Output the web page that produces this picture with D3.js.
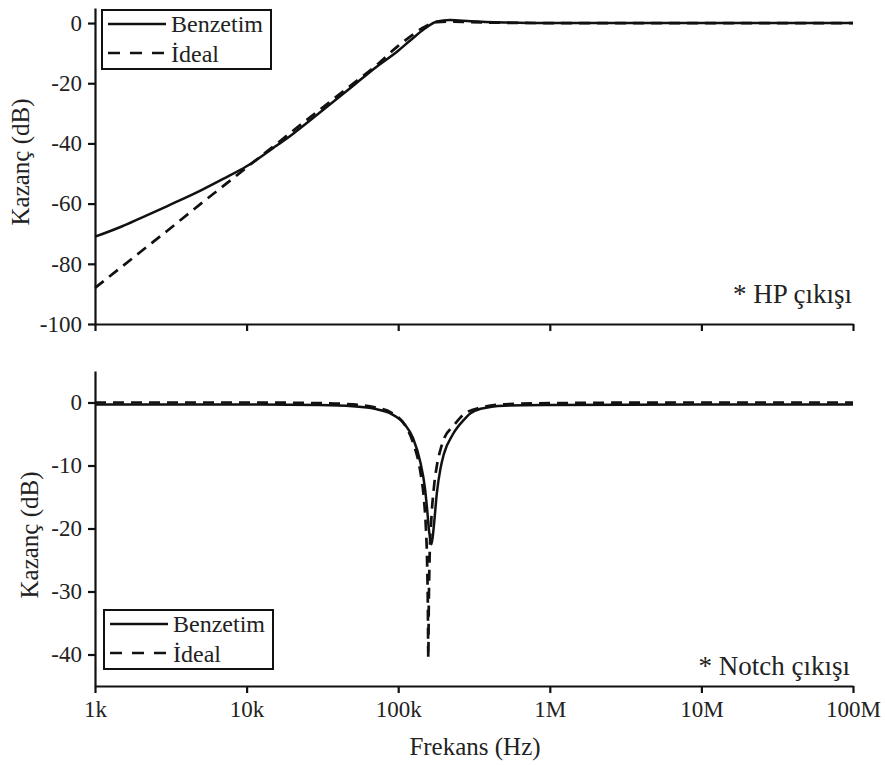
<!DOCTYPE html>
<html>
<head>
<meta charset="utf-8">
<script src="https://cdn.jsdelivr.net/npm/d3@7"></script>
<style>
  body { margin: 0; background: #fff; }
</style>
</head>
<body>
<svg id="chart" width="885" height="765"></svg>
<script>
// frequency ticks
let tickFreqs = [1e3, 1e4, 1e5, 1e6, 1e7, 1e8];
let tickNames = ["1k", "10k", "100k", "1M", "10M", "100M"];

// HP output (top panel)
let hpFreq = [1e3, 1.5e3, 2e3, 3e3, 5e3, 7e3, 1e4, 1.5e4, 2e4, 3e4, 5e4, 7e4, 1e5, 1.2e5, 1.5e5, 1.8e5, 2.2e5, 3e5, 5e5, 1e6, 1e7, 1e8];
let hpSim = [-71, -67.6, -64.8, -60.8, -55.6, -51.8, -47.6, -41.5, -37, -30, -21, -15, -9.2, -5.8, -1.8, 0.5, 1.0, 0.6, 0.2, 0, 0, 0];
let hpIdeal = [-88, -81, -76, -69, -60, -54.2, -48, -41, -36, -29, -20.3, -14.5, -7.6, -4.5, -1.2, 0.3, 0.5, 0.3, 0.1, 0, 0, 0];

// Notch output (bottom panel)
let nSimFreq = [1e3, 1e4, 3e4, 5e4, 7e4, 9e4, 1.1e5, 1.25e5, 1.4e5, 1.5e5, 1.55e5, 1.6e5, 1.66e5, 1.72e5, 1.8e5, 1.9e5, 2e5, 2.3e5, 2.7e5, 3e5, 3.5e5, 5e5, 1e6, 1e7, 1e8];
let nSim = [-0.3, -0.3, -0.4, -0.6, -1.0, -1.8, -3.4, -5.6, -9.5, -13.5, -16.8, -20.5, -22.5, -19.5, -14.3, -10.5, -8.2, -5.0, -2.8, -1.7, -1.0, -0.5, -0.4, -0.3, -0.3];
let nIdealFreq = [1e3, 1e4, 3e4, 5e4, 7e4, 9e4, 1.1e5, 1.25e5, 1.4e5, 1.48e5, 1.52e5, 1.55e5, 1.57e5, 1.58e5, 1.59e5, 1.61e5, 1.65e5, 1.72e5, 1.8e5, 1.9e5, 2e5, 2.3e5, 2.7e5, 3.5e5, 5e5, 1e6, 1e7, 1e8];
let nIdeal = [0, 0, -0.1, -0.3, -0.75, -1.6, -3.5, -6.3, -11, -15.5, -19.5, -25, -33, -40.6, -33, -25, -19, -13.5, -10, -7.5, -5.8, -3.8, -1.9, -0.8, -0.3, -0.1, 0, 0];

let topTicks = [0, -20, -40, -60, -80, -100];
let botTicks = [0, -10, -20, -30, -40];

let FONT = "Liberation Serif";

let svg = d3.select("#chart");

let x = d3.scaleLog().domain([1e3, 1e8]).range([95, 853]);
let yTop = d3.scaleLinear().domain([-100, 5]).range([324, 8]);
let yBot = d3.scaleLinear().domain([-45, 5]).range([686, 371]);

function label(sel, size) {
    return sel.attr("font-family", null).style("font-family", FONT)
        .style("font-size", size + "px").attr("fill", "#222");
}

function drawAxes(y, ticks, xLabels) {
    let ax = svg.append("g")
        .attr("transform", "translate(95,0)")
        .call(d3.axisLeft(y).tickValues(ticks).tickSize(7).tickSizeOuter(0).tickPadding(6)
            .tickFormat(d => String(d)));
    let bx = svg.append("g")
        .attr("transform", "translate(0," + y.range()[0] + ")")
        .call(d3.axisBottom(x).tickValues(tickFreqs).tickSize(7).tickSizeOuter(0).tickPadding(8)
            .tickFormat((d, i) => xLabels ? tickNames[i] : ""));
    [ax, bx].forEach(g => {
        g.attr("font-family", null);
        g.selectAll("path, line").attr("stroke", "#111").attr("stroke-width", 2.2);
        label(g.selectAll("text"), 23);
    });
}

function drawLines(y, fS, vS, fI, vI) {
    let line = d3.line().curve(d3.curveMonotoneX);
    svg.append("path")
        .attr("d", line(fS.map((f, i) => [x(f), y(vS[i])])))
        .attr("fill", "none").attr("stroke", "#111").attr("stroke-width", 2.5);
    svg.append("path")
        .attr("d", line(fI.map((f, i) => [x(f), y(vI[i])])))
        .attr("fill", "none").attr("stroke", "#111").attr("stroke-width", 2.7)
        .attr("stroke-dasharray", "11,7");
}

function drawLegend(x0, y0) {
    let g = svg.append("g").attr("transform", "translate(" + x0 + "," + y0 + ")");
    g.append("rect").attr("width", 169).attr("height", 59)
        .attr("fill", "#fff").attr("stroke", "#111").attr("stroke-width", 2);
    g.append("line").attr("x1", 6).attr("x2", 64).attr("y1", 14).attr("y2", 14)
        .attr("stroke", "#111").attr("stroke-width", 2.5);
    g.append("line").attr("x1", 6).attr("x2", 64).attr("y1", 43).attr("y2", 43)
        .attr("stroke", "#111").attr("stroke-width", 2.7).attr("stroke-dasharray", "12,10");
    label(g.append("text").attr("x", 69).attr("y", 22).text("Benzetim"), 24);
    label(g.append("text").attr("x", 69).attr("y", 52).text("İdeal"), 24);
}

drawAxes(yTop, topTicks, false);
drawAxes(yBot, botTicks, true);
drawLines(yTop, hpFreq, hpSim, hpFreq, hpIdeal);
drawLines(yBot, nSimFreq, nSim, nIdealFreq, nIdeal);
drawLegend(102, 10);
drawLegend(104, 610);

label(svg.append("text").attr("x", 852).attr("y", 303).attr("text-anchor", "end")
    .text("* HP çıkışı"), 27);
label(svg.append("text").attr("x", 850).attr("y", 675).attr("text-anchor", "end")
    .text("* Notch çıkışı"), 27);

label(svg.append("text").attr("x", 475).attr("y", 755).attr("text-anchor", "middle")
    .text("Frekans (Hz)"), 25);
label(svg.append("text").attr("transform", "translate(29,162) rotate(-90)").attr("text-anchor", "middle")
    .text("Kazanç (dB)"), 25);
label(svg.append("text").attr("transform", "translate(38,535) rotate(-90)").attr("text-anchor", "middle")
    .text("Kazanç (dB)"), 25);
</script>
</body>
</html>
